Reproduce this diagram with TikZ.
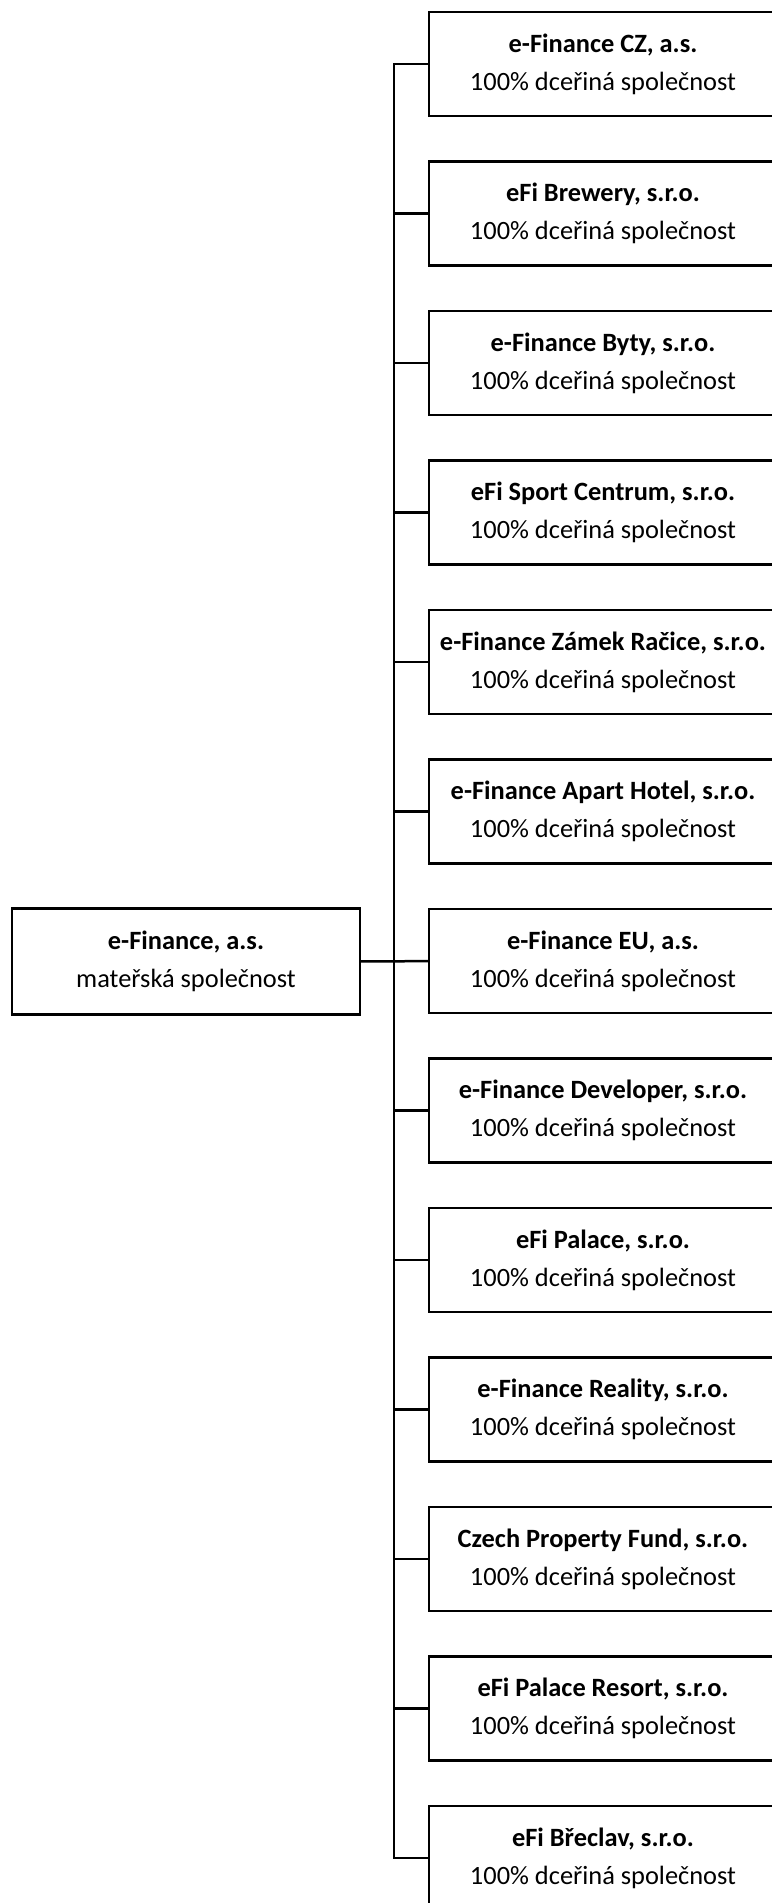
\documentclass[tikz,border=0pt]{standalone}
\usepackage{fontspec}
\setmainfont{Carlito}
\usepackage{tikz}
\usetikzlibrary{positioning}
\tikzset{%
	firm/.style={draw, rectangle, minimum width=348pt, minimum height=106pt, inner sep=0pt,%
		outer sep=0pt, line width=2.5pt, align=center, font=\fontsize{26.4}{38}\selectfont},
	sub/.style={firm, minimum height=104pt},
	connector/.style={line width=2.5pt}
}
\begin{document}
\begin{tikzpicture}[x=1pt, y=1pt, node distance=45.5pt]
		\useasboundingbox (0,0) rectangle (771,-1903);
		\node[firm] (m) at (186,-961.5) {\textbf{e-Finance, a.s.}\\mateřská společnost};
		\node[sub] (d1) at (603,-64) {\textbf{e-Finance CZ, a.s.}\\100\% dceřiná společnost};
		\node[sub] (d2) [below=of d1] {\textbf{eFi Brewery, s.r.o.}\\100\% dceřiná společnost};
		\node[sub] (d3) [below=of d2] {\textbf{e-Finance Byty, s.r.o.}\\100\% dceřiná společnost};
		\node[sub] (d4) [below=of d3] {\textbf{eFi Sport Centrum, s.r.o.}\\100\% dceřiná společnost};
		\node[sub] (d5) [below=of d4] {\textbf{e-Finance Zámek Račice, s.r.o.}\\100\% dceřiná společnost};
		\node[sub] (d6) [below=of d5] {\textbf{e-Finance Apart Hotel, s.r.o.}\\100\% dceřiná společnost};
		\node[sub] (d7) [below=of d6] {\textbf{e-Finance EU, a.s.}\\100\% dceřiná společnost};
		\node[sub] (d8) [below=of d7] {\textbf{e-Finance Developer, s.r.o.}\\100\% dceřiná společnost};
		\node[sub] (d9) [below=of d8] {\textbf{eFi Palace, s.r.o.}\\100\% dceřiná společnost};
		\node[sub] (d10) [below=of d9] {\textbf{e-Finance Reality, s.r.o.}\\100\% dceřiná společnost};
		\node[sub] (d11) [below=of d10] {\textbf{Czech Property Fund, s.r.o.}\\100\% dceřiná společnost};
		\node[sub] (d12) [below=of d11] {\textbf{eFi Palace Resort, s.r.o.}\\100\% dceřiná společnost};
		\node[sub] (d13) [below=of d12] {\textbf{eFi Břeclav, s.r.o.}\\100\% dceřiná společnost};
		\draw [connector] (m) to (d7);
		\draw [connector] (d1.west) -- ++(-35,0) |- (d13.west);
		\draw [connector] (d2.west) -- ++(-35,0);
		\draw [connector] (d3.west) -- ++(-35,0);
		\draw [connector] (d4.west) -- ++(-35,0);
		\draw [connector] (d5.west) -- ++(-35,0);
		\draw [connector] (d6.west) -- ++(-35,0);
		\draw [connector] (d8.west) -- ++(-35,0);
		\draw [connector] (d9.west) -- ++(-35,0);
		\draw [connector] (d10.west) -- ++(-35,0);
		\draw [connector] (d11.west) -- ++(-35,0);
		\draw [connector] (d12.west) -- ++(-35,0);

	\end{tikzpicture}
\end{document}
